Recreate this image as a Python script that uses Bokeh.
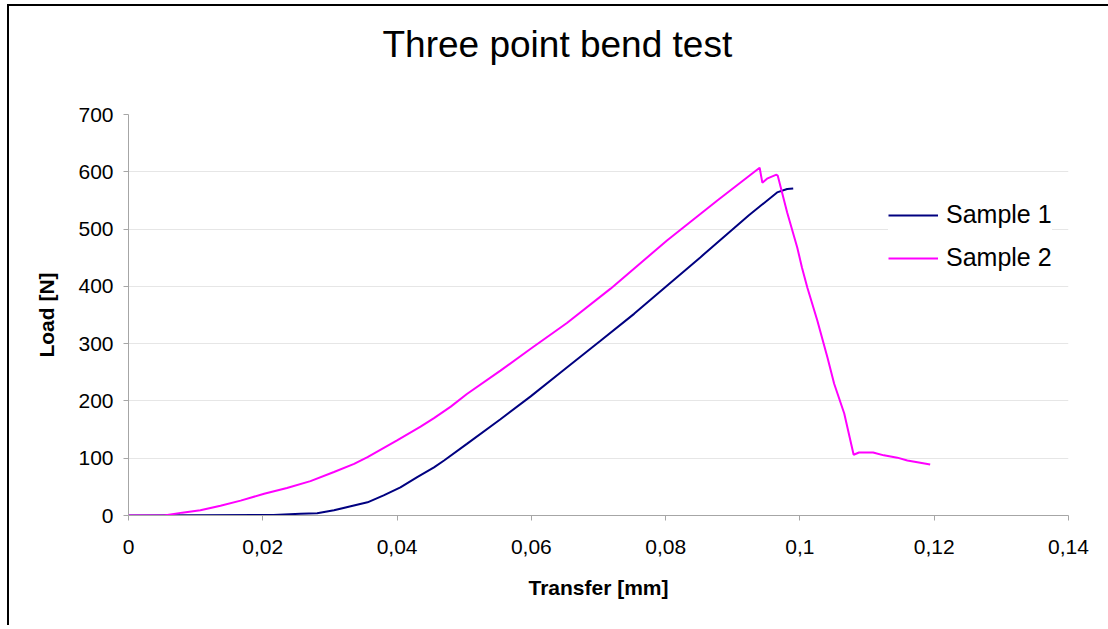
from bokeh.plotting import figure
from bokeh.models import (FixedTicker, CustomJSTickFormatter, Range1d, Legend,
                          LegendItem, GlobalInlineStyleSheet, Title)
from bokeh.embed import file_html
from bokeh.resources import INLINE

FONT = "Liberation Sans"

title_text = "Three point bend test"
x_label = "Transfer [mm]"
y_label = "Load [N]"
series_names = ["Sample 1", "Sample 2"]

x_ticks = [0, 0.02, 0.04, 0.06, 0.08, 0.10, 0.12, 0.14]
y_ticks = [0, 100, 200, 300, 400, 500, 600, 700]

s1_x = [0, 0.0216, 0.0256, 0.0281, 0.0306, 0.0331, 0.0356, 0.0380, 0.0405,
        0.0430, 0.0455, 0.0470, 0.0504, 0.0554, 0.0599, 0.0644, 0.0703, 0.0753,
        0.0802, 0.0852, 0.0924, 0.0966, 0.0981, 0.0990]
s1_y = [0, 1, 3, 4, 9, 16, 23, 35, 49, 67, 84, 96, 125, 168, 208, 250, 305, 352,
        401, 451, 524, 564, 570, 571]

s2_x = [0, 0.0053, 0.0080, 0.0107, 0.0137, 0.0167, 0.0202, 0.0236, 0.0271,
        0.0306, 0.0336, 0.0356, 0.0400, 0.0435, 0.0455, 0.0480, 0.0504, 0.0554,
        0.0599, 0.0653, 0.0718, 0.0802, 0.0877, 0.0940, 0.0944, 0.0951, 0.0965,
        0.0967, 0.0981, 0.0996, 0.1003, 0.1011, 0.1026, 0.1041, 0.1051, 0.1066,
        0.1080, 0.1088, 0.1109, 0.1125, 0.1145, 0.1160, 0.1175, 0.1194]
s2_y = [0, 0, 5, 9, 17, 26, 38, 48, 60, 76, 90, 102, 131, 155, 170, 190, 212,
        253, 291, 336, 396, 480, 550, 607, 581, 588, 595, 593, 529, 468, 433,
        398, 340, 276, 230, 178, 106, 110, 110, 105, 101, 96, 93, 89]

colors = ["#000080", "#FF00FF"]

p = figure(width=1110, height=621, output_backend="svg", toolbar_location=None,
           title=None,
           x_range=Range1d(0, 0.14), y_range=Range1d(0, 700),
           min_border_left=119, min_border_right=51, min_border_top=108,
           min_border_bottom=112,
           styles={"box-shadow": "-2px -2px 0px 0px black",
                   "margin-top": "6px", "margin-left": "9px"},
           stylesheets=[GlobalInlineStyleSheet(css="html, body { overflow: hidden; }")])
p.outline_line_color = None
p.background_fill_color = "white"
p.border_fill_color = "white"

# spacer between the frame and the title (first item above = closest to frame)
p.add_layout(Title(text=" ", text_font_size="1px", standoff=47), "above")
p.add_layout(Title(text=title_text, align="left", offset=254, text_font=FONT,
                   text_font_size="37px", text_font_style="normal",
                   text_color="black", standoff=0), "above")

p.xgrid.grid_line_color = None
p.ygrid.grid_line_color = "#E6E6E6"
p.ygrid.grid_line_width = 1

for ax in (p.xaxis[0], p.yaxis[0]):
    ax.axis_line_color = "#A6A6A6"
    ax.major_tick_line_color = "#A6A6A6"
    ax.minor_tick_line_color = None
    ax.major_tick_in = 0
    ax.major_tick_out = 5
    ax.major_label_text_font = FONT
    ax.major_label_text_font_size = "21px"
    ax.major_label_text_color = "black"
    ax.axis_label_text_font = FONT
    ax.axis_label_text_font_size = "21px"
    ax.axis_label_text_font_style = "bold"
    ax.axis_label_text_color = "black"

p.xaxis.ticker = FixedTicker(ticks=x_ticks)
p.yaxis.ticker = FixedTicker(ticks=y_ticks)
p.xaxis.formatter = CustomJSTickFormatter(
    code="return parseFloat(tick.toFixed(4)).toString().replace('.', ',');")
p.xaxis.axis_label = x_label
p.yaxis.axis_label = y_label
p.xaxis.major_label_standoff = 19
p.yaxis.major_label_standoff = 10
p.xaxis.axis_label_standoff = 19
p.yaxis.axis_label_standoff = 17

r1 = p.line(s1_x, s1_y, line_color=colors[0], line_width=2)
r2 = p.line(s2_x, s2_y, line_color=colors[1], line_width=2)

legend = Legend(items=[LegendItem(label=series_names[0], renderers=[r1]),
                       LegendItem(label=series_names[1], renderers=[r2])],
                location=(760, 243), glyph_width=50, glyph_height=22,
                label_text_font=FONT, label_text_font_size="25px",
                label_text_color="black",
                label_standoff=8, spacing=14, padding=12,
                border_line_color=None, background_fill_color="white",
                background_fill_alpha=1.0)
p.add_layout(legend)

open("out.html", "w").write(file_html(p, INLINE))
